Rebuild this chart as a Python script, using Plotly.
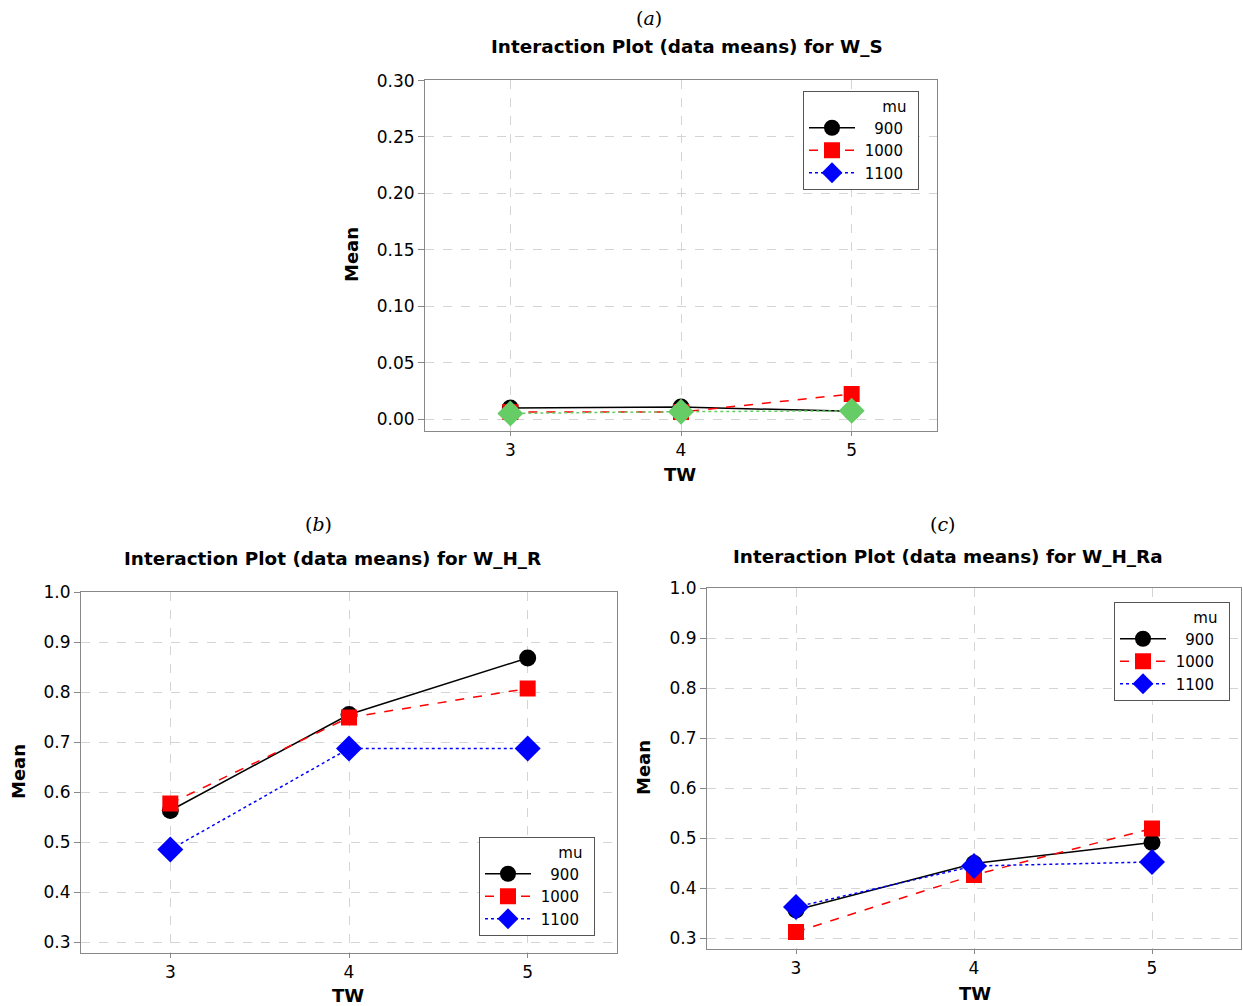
import plotly.graph_objects as go

tw = [3, 4, 5]
mu_levels = ["900", "1000", "1100"]

# Panel (a): W_S
ws_900 = [0.0097, 0.0106, 0.0068]
ws_1000 = [0.0062, 0.0062, 0.0222]
ws_1100 = [0.0050, 0.0065, 0.0073]

# Panel (b): W_H_R
whr_900 = [0.563, 0.755, 0.868]
whr_1000 = [0.577, 0.749, 0.807]
whr_1100 = [0.485, 0.687, 0.687]

# Panel (c): W_H_Ra
whra_900 = [0.356, 0.449, 0.491]
whra_1000 = [0.312, 0.426, 0.519]
whra_1100 = [0.362, 0.444, 0.452]

W, H = 1243, 1006

def px_x(p):
    return p / W

def px_y(p):
    return 1 - p / H

NB = "\u00a0"
labels = {"900": NB * 3 + "900" + NB * 2, "1000": NB + "1000" + NB * 2, "1100": NB + "1100" + NB * 2}

styles = {
    "900": dict(color="black", dash="solid", symbol="circle", size=17),
    "1000": dict(color="#ff0000", dash="dash", symbol="square", size=16),
    "1100": dict(color="#0000ff", dash="dot", symbol="diamond", size=20),
}

fig = go.Figure()

def add_series(xa, ya, legend, values, key, color=None, showlegend=True):
    st = styles[key]
    c = color or st["color"]
    fig.add_trace(go.Scatter(
        x=tw, y=values, mode="lines+markers", name=labels[key],
        xaxis=xa, yaxis=ya, legend=legend, showlegend=showlegend,
        line=dict(color=c, dash=st["dash"], width=1.5),
        marker=dict(symbol=st["symbol"], size=st["size"], color=c),
    ))

# Panel a
add_series("x", "y", "legend", ws_900, "900")
add_series("x", "y", "legend", ws_1000, "1000")
add_series("x", "y", "legend", ws_1100, "1100", color="#66cc66", showlegend=False)
st = styles["1100"]
fig.add_trace(go.Scatter(
    x=[None], y=[None], mode="lines+markers", name=labels["1100"], xaxis="x", yaxis="y", legend="legend",
    line=dict(color=st["color"], dash=st["dash"], width=1.5),
    marker=dict(symbol=st["symbol"], size=st["size"], color=st["color"]),
))
# Panel b
add_series("x2", "y2", "legend2", whr_900, "900")
add_series("x2", "y2", "legend2", whr_1000, "1000")
add_series("x2", "y2", "legend2", whr_1100, "1100")
# Panel c
add_series("x3", "y3", "legend3", whra_900, "900")
add_series("x3", "y3", "legend3", whra_1000, "1000")
add_series("x3", "y3", "legend3", whra_1100, "1100")

tickfont = dict(family="DejaVu Sans", size=17, color="black")
common_x = dict(range=[2.5, 5.5], tickvals=tw, ticktext=[str(t) for t in tw],
                showline=True, linecolor="#888888", linewidth=1, mirror=True,
                ticks="outside", ticklen=4, tickcolor="#888888",
                showgrid=True, gridcolor="#d4d4d4", griddash="dash", gridwidth=1,
                zeroline=False, tickfont=tickfont)
common_y = dict(showline=True, linecolor="#888888", linewidth=1, mirror=True,
                ticks="outside", ticklen=6, tickcolor="#888888",
                showgrid=True, gridcolor="#d4d4d4", griddash="dash", gridwidth=1,
                zeroline=False, tickfont=tickfont)

ya_ticks = [0.0, 0.05, 0.10, 0.15, 0.20, 0.25, 0.30]
yb_ticks = [0.3, 0.4, 0.5, 0.6, 0.7, 0.8, 0.9, 1.0]

fig.update_layout(
    width=W, height=H,
    margin=dict(l=0, r=0, t=0, b=0, autoexpand=False),
    paper_bgcolor="white", plot_bgcolor="white",
    xaxis=dict(domain=[px_x(425), px_x(937)], anchor="y", **common_x),
    yaxis=dict(domain=[px_y(431), px_y(80)], anchor="x", range=[-0.0106, 0.3005],
               tickvals=ya_ticks, ticktext=[f"{v:.2f}" for v in ya_ticks], **common_y),
    xaxis2=dict(domain=[px_x(81), px_x(617)], anchor="y2", **common_x),
    yaxis2=dict(domain=[px_y(953), px_y(592)], anchor="x2", range=[0.278, 1.0],
                tickvals=yb_ticks, ticktext=[f"{v:.1f}" for v in yb_ticks], **common_y),
    xaxis3=dict(domain=[px_x(707), px_x(1241)], anchor="y3", **common_x),
    yaxis3=dict(domain=[px_y(949), px_y(588)], anchor="x3", range=[0.278, 1.0],
                tickvals=yb_ticks, ticktext=[f"{v:.1f}" for v in yb_ticks], **common_y),
)

legend_common = dict(
    bgcolor="white", bordercolor="#555555", borderwidth=1,
    font=dict(family="DejaVu Sans", size=15, color="black"),
    title=dict(text="mu" + NB * 2, side="top right", font=dict(family="DejaVu Sans", size=15)),
    xanchor="left", yanchor="top", itemwidth=46, tracegroupgap=0,
)
fig.update_layout(
    legend=dict(x=px_x(803), y=px_y(91), **legend_common),
    legend2=dict(x=px_x(479), y=px_y(837), **legend_common),
    legend3=dict(x=px_x(1114), y=px_y(602), **legend_common),
)

anns = []
def text_ann(x, y, text, size, family="DejaVu Sans", bold=False, angle=0):
    t = f"<b>{text}</b>" if bold else text
    anns.append(dict(x=px_x(x), y=px_y(y), xref="paper", yref="paper", text=t,
                     showarrow=False, textangle=angle, xanchor="center", yanchor="middle",
                     font=dict(family=family, size=size, color="black")))

text_ann(649, 18, "(<i>a</i>)", 19, family="DejaVu Serif")
text_ann(318, 524, "(<i>b</i>)", 19, family="DejaVu Serif")
text_ann(943, 524, "(<i>c</i>)", 19, family="DejaVu Serif")
text_ann(687, 46, "Interaction Plot (data means) for W_S", 18.4, bold=True)
text_ann(332, 558, "Interaction Plot (data means) for W_H_R", 18.4, bold=True)
text_ann(948, 556, "Interaction Plot (data means) for W_H_Ra", 18.4, bold=True)
text_ann(352, 255, "Mean", 18, bold=True, angle=-90)
text_ann(18, 772, "Mean", 18, bold=True, angle=-90)
text_ann(643, 768, "Mean", 18, bold=True, angle=-90)
text_ann(680, 474, "TW", 18, bold=True)
text_ann(348, 995, "TW", 18, bold=True)
text_ann(975, 993, "TW", 18, bold=True)
fig.update_layout(annotations=anns)

post = ("document.body.style.margin='0';"
        "var d=document.getElementById('{plot_id}');"
        "d.style.position='absolute';d.style.left='0px';d.style.top='0px';")
fig.write_html("out.html", post_script=post, config={"displayModeBar": False})
